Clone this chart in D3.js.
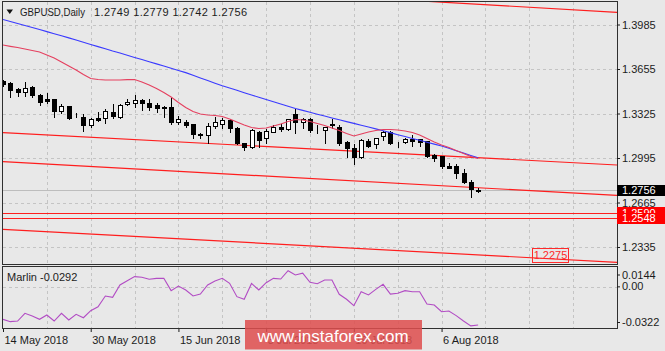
<!DOCTYPE html>
<html lang="en">
<head>
<meta charset="UTF-8">
<title>GBPUSD, Daily</title>
<script src="https://d3js.org/d3.v7.min.js"></script>
<style>
    html, body {
        margin: 0;
        padding: 0;
        background: #e8e8e8;
    }
    svg {
        display: block;
        font-family: "Liberation Sans", Arial, sans-serif;
    }
    .grid {
        stroke: #c4c4c4;
        stroke-dasharray: 3,3;
        shape-rendering: crispEdges;
    }
    .frame {
        fill: none;
        stroke: #303030;
        shape-rendering: crispEdges;
    }
    .lbl {
        font-size: 11px;
        fill: #1c1c1c;
    }
</style>
</head>
<body>
<svg id="chart" width="665" height="351"></svg>

<script>
    // daily bars, 14 May 2018 .. 13 Aug 2018
    const opens = [1.3566, 1.3553, 1.3504, 1.3487, 1.3519, 1.3462, 1.3430, 1.3430, 1.3346, 1.3383,
        1.3321, 1.3301, 1.3240, 1.3294, 1.3289, 1.3338, 1.3301, 1.3395, 1.3405, 1.3425,
        1.3405, 1.3388, 1.3375, 1.3375, 1.3264, 1.3264, 1.3245, 1.3173, 1.3166, 1.3235,
        1.3245, 1.3277, 1.3220, 1.3104, 1.3079, 1.3186, 1.3141, 1.3190, 1.3227, 1.3210,
        1.3319, 1.3264, 1.3284, 1.3218, 1.3203, 1.3247, 1.3227, 1.3116, 1.3071, 1.3005,
        1.3121, 1.3097, 1.3160, 1.3186, 1.3106, 1.3116, 1.3136, 1.3136, 1.3121, 1.3017,
        1.3012, 1.2938, 1.2938, 1.2882, 1.2819, 1.2749];
    const highs = [1.3581, 1.3568, 1.3524, 1.3568, 1.3536, 1.3475, 1.3487, 1.3438, 1.3401, 1.3388,
        1.3338, 1.3327, 1.3301, 1.3346, 1.3364, 1.3401, 1.3401, 1.3438, 1.3470, 1.3438,
        1.3438, 1.3413, 1.3388, 1.3450, 1.3314, 1.3284, 1.3252, 1.3190, 1.3264, 1.3309,
        1.3301, 1.3294, 1.3235, 1.3116, 1.3215, 1.3203, 1.3215, 1.3245, 1.3252, 1.3294,
        1.3364, 1.3301, 1.3301, 1.3245, 1.3236, 1.3289, 1.3245, 1.3129, 1.3104, 1.3141,
        1.3141, 1.3153, 1.3203, 1.3203, 1.3121, 1.3153, 1.3171, 1.3146, 1.3129, 1.3030,
        1.3017, 1.2968, 1.2956, 1.2919, 1.2839, 1.2779];
    const lows = [1.3529, 1.3445, 1.3455, 1.3455, 1.3450, 1.3388, 1.3401, 1.3301, 1.3327, 1.3284,
        1.3301, 1.3197, 1.3227, 1.3273, 1.3252, 1.3289, 1.3289, 1.3388, 1.3371, 1.3351,
        1.3351, 1.3338, 1.3301, 1.3245, 1.3245, 1.3227, 1.3146, 1.3146, 1.3104, 1.3220,
        1.3215, 1.3190, 1.3097, 1.3054, 1.3071, 1.3079, 1.3104, 1.3186, 1.3195, 1.3203,
        1.3178, 1.3215, 1.3190, 1.3178, 1.3104, 1.3215, 1.3091, 1.3005, 1.2948, 1.2993,
        1.3079, 1.3067, 1.3129, 1.3097, 1.3079, 1.3104, 1.3086, 1.3086, 1.3005, 1.2973,
        1.2919, 1.2919, 1.2844, 1.2807, 1.2708, 1.2742];
    const closes = [1.3544, 1.3499, 1.3487, 1.3512, 1.3462, 1.3413, 1.3420, 1.3346, 1.3381, 1.3289,
        1.3318, 1.3240, 1.3282, 1.3277, 1.3346, 1.3306, 1.3388, 1.3413, 1.3425, 1.3405,
        1.3375, 1.3364, 1.3368, 1.3264, 1.3284, 1.3240, 1.3171, 1.3169, 1.3235, 1.3264,
        1.3277, 1.3215, 1.3104, 1.3079, 1.3203, 1.3129, 1.3195, 1.3227, 1.3210, 1.3284,
        1.3264, 1.3284, 1.3203, 1.3214, 1.3227, 1.3240, 1.3104, 1.3067, 1.3005, 1.3129,
        1.3086, 1.3141, 1.3190, 1.3104, 1.3103, 1.3136, 1.3121, 1.3116, 1.3012, 1.2997,
        1.2938, 1.2923, 1.2882, 1.2819, 1.2765, 1.2756];

    // moving averages
    const maSlow = [1.4022, 1.4007, 1.3992, 1.3978, 1.3963, 1.3948, 1.3932, 1.3917, 1.3901, 1.3886,
        1.3870, 1.3854, 1.3837, 1.3821, 1.3805, 1.3788, 1.3773, 1.3757, 1.3741, 1.3725,
        1.3709, 1.3693, 1.3677, 1.3660, 1.3644, 1.3628, 1.3608, 1.3589, 1.3570, 1.3550,
        1.3531, 1.3514, 1.3497, 1.3479, 1.3462, 1.3446, 1.3429, 1.3412, 1.3395, 1.3379,
        1.3362, 1.3348, 1.3334, 1.3320, 1.3306, 1.3292, 1.3278, 1.3265, 1.3252, 1.3238,
        1.3225, 1.3211, 1.3197, 1.3183, 1.3168, 1.3154, 1.3140, 1.3126, 1.3112, 1.3098,
        1.3084, 1.3067, 1.3049, 1.3032, 1.3014, 1.2997];
    const maFast = [1.3833, 1.3823, 1.3814, 1.3803, 1.3792, 1.3781, 1.3759, 1.3737, 1.3707, 1.3677,
        1.3648, 1.3614, 1.3585, 1.3577, 1.3573, 1.3573, 1.3573, 1.3576, 1.3577, 1.3559,
        1.3536, 1.3510, 1.3481, 1.3447, 1.3407, 1.3370, 1.3340, 1.3321, 1.3314, 1.3310,
        1.3303, 1.3284, 1.3262, 1.3240, 1.3221, 1.3214, 1.3217, 1.3232, 1.3247, 1.3266,
        1.3280, 1.3277, 1.3266, 1.3251, 1.3236, 1.3217, 1.3199, 1.3177, 1.3158, 1.3173,
        1.3188, 1.3199, 1.3206, 1.3206, 1.3203, 1.3195, 1.3184, 1.3165, 1.3140, 1.3114,
        1.3091, 1.3073, 1.3051, 1.3028, 1.3006, 1.2991];

    // Marlin oscillator
    const marlin = [-0.0248, -0.0266, -0.0261, -0.0202, -0.0223, -0.0248, -0.0215, -0.0261, -0.0202, -0.0253,
        -0.0210, -0.0236, -0.0182, -0.0152, -0.0070, -0.0080, 0.0014, 0.0047, 0.0078, 0.0073,
        0.0058, 0.0065, 0.0065, -0.0029, 0.0006, -0.0024, -0.0070, -0.0055, 0.0014, 0.0045,
        0.0065, 0.0027, -0.0075, -0.0095, 0.0026, -0.0024, 0.0032, 0.0065, 0.0060, 0.0123,
        0.0091, 0.0104, 0.0035, 0.0024, 0.0052, 0.0052, -0.0057, -0.0095, -0.0144, -0.0037,
        -0.0062, -0.0019, 0.0019, -0.0055, -0.0049, -0.0029, -0.0037, -0.0037, -0.0131, -0.0139,
        -0.0190, -0.0185, -0.0220, -0.0261, -0.0298, -0.0292];

    // trend lines: [bar, price, bar, price]
    const trendLines = [
        [0, 1.4340, 84, 1.4075],
        [0, 1.3183, 84, 1.2943],
        [0, 1.2968, 84, 1.2718],
        [0, 1.2466, 84, 1.2221]
    ];
    const levels = [1.2590, 1.2548];
    const lowTarget = { bar: 72.4, price: 1.2275 };

    const priceTicks = [1.3985, 1.3655, 1.3325, 1.2995, 1.2665, 1.2335];
    const markerTicks = [0.0144, 0, -0.0322];
    const gridEvery = 6;
    const labelEvery = 12;

    const dates = d3.utcDay.range(new Date(Date.UTC(2018, 4, 14)), new Date(Date.UTC(2018, 7, 14)))
        .filter(d => d.getUTCDay() !== 0 && d.getUTCDay() !== 6);
    const fmtDate = d3.utcFormat("%-d %b %Y");
    const last = closes.length - 1;

    const W = 665, H = 351;
    const left = 3, right = 617;
    const mainTop = 2, mainBottom = 264.5;
    const indTop = 267, indBottom = 329;

    const svg = d3.select("#chart");

    const x = d3.scaleLinear().domain([0, 84]).range([left, right]);
    const y = d3.scaleLinear().domain([1.2335, 1.3985]).range([247, 24.5]);
    const yInd = d3.scaleLinear().domain([-0.0322, 0.0144]).range([indBottom, indTop + 1]);
    const px = v => Math.round(v) + 0.5;

    const defs = svg.append("defs");
    defs.append("clipPath").attr("id", "clipMain")
        .append("rect").attr("x", left).attr("y", mainTop).attr("width", right - left).attr("height", mainBottom - mainTop);
    defs.append("clipPath").attr("id", "clipInd")
        .append("rect").attr("x", left).attr("y", indTop).attr("width", right - left).attr("height", indBottom - indTop);

    // grid
    const gridIdx = d3.range(gridEvery, 84, gridEvery);
    const grid = svg.append("g");
    gridIdx.forEach(i => {
        grid.append("line").attr("class", "grid")
            .attr("x1", px(x(i))).attr("x2", px(x(i))).attr("y1", mainTop).attr("y2", mainBottom);
        grid.append("line").attr("class", "grid")
            .attr("x1", px(x(i))).attr("x2", px(x(i))).attr("y1", indTop).attr("y2", indBottom);
    });
    priceTicks.forEach(p => {
        grid.append("line").attr("class", "grid")
            .attr("x1", left).attr("x2", right).attr("y1", px(y(p))).attr("y2", px(y(p)));
    });
    grid.append("line").attr("class", "grid")
        .attr("x1", left).attr("x2", right).attr("y1", px(yInd(0))).attr("y2", px(yInd(0)));

    const main = svg.append("g").attr("clip-path", "url(#clipMain)");

    // bid line
    main.append("line")
        .attr("x1", left).attr("x2", right)
        .attr("y1", px(y(closes[last]))).attr("y2", px(y(closes[last])))
        .attr("stroke", "#bdbdbd").attr("shape-rendering", "crispEdges");

    // red levels and channels
    levels.forEach(p => {
        main.append("line")
            .attr("x1", left).attr("x2", right)
            .attr("y1", px(y(p))).attr("y2", px(y(p)))
            .attr("stroke", "#ff1e1e").attr("stroke-width", 1.2);
    });
    trendLines.forEach(t => {
        main.append("line")
            .attr("x1", x(t[0])).attr("y1", y(t[1]))
            .attr("x2", x(t[2])).attr("y2", y(t[3]))
            .attr("stroke", "#ff1e1e").attr("stroke-width", 1.2);
    });

    // candles
    const candles = main.append("g");
    closes.forEach((c, i) => {
        const o = opens[i];
        const cx = px(x(i));
        candles.append("line")
            .attr("x1", cx).attr("x2", cx)
            .attr("y1", px(y(highs[i]))).attr("y2", px(y(lows[i])))
            .attr("stroke", "#000").attr("shape-rendering", "crispEdges");
        const top = px(y(Math.max(o, c)));
        const bot = px(y(Math.min(o, c)));
        candles.append("rect")
            .attr("x", cx - 2).attr("width", 4)
            .attr("y", top).attr("height", Math.max(bot - top, 0))
            .attr("fill", c >= o ? "#fff" : "#000")
            .attr("stroke", "#000")
            .attr("shape-rendering", "crispEdges");
    });

    // moving averages
    const maLine = d3.line().x((d, i) => x(i)).y(d => y(d));
    main.append("path").datum(maSlow)
        .attr("d", maLine).attr("fill", "none").attr("stroke", "#3a3aff").attr("stroke-width", 1.1);
    main.append("path").datum(maFast)
        .attr("d", maLine).attr("fill", "none").attr("stroke", "#e5405f").attr("stroke-width", 1.1);

    // 1.2275 target label
    const tg = main.append("g");
    tg.append("rect")
        .attr("x", px(x(lowTarget.bar))).attr("y", px(y(lowTarget.price) - 7))
        .attr("width", 36).attr("height", 14)
        .attr("fill", "none").attr("stroke", "#ff2a2a").attr("shape-rendering", "crispEdges");
    tg.append("text")
        .attr("x", px(x(lowTarget.bar)) + 18).attr("y", y(lowTarget.price) + 4)
        .attr("text-anchor", "middle").attr("font-size", 11).attr("fill", "#ff2a2a")
        .text(lowTarget.price.toFixed(4));

    // marlin
    svg.append("g").attr("clip-path", "url(#clipInd)")
        .append("path").datum(marlin)
        .attr("d", d3.line().x((d, i) => x(i)).y(d => yInd(d)))
        .attr("fill", "none").attr("stroke", "#b24cc4").attr("stroke-width", 1.1);

    // frames
    svg.append("rect").attr("class", "frame")
        .attr("x", left - 0.5).attr("y", mainTop - 0.5)
        .attr("width", right - left + 0.5).attr("height", mainBottom - mainTop);
    svg.append("rect").attr("class", "frame")
        .attr("x", left - 0.5).attr("y", indTop - 0.5)
        .attr("width", right - left + 0.5).attr("height", indBottom - indTop);

    // price axis
    const styleAxis = g => {
        g.attr("font-size", 11).attr("font-family", "'Liberation Sans', Arial, sans-serif").attr("color", "#1c1c1c");
        g.select(".domain").remove();
    };
    svg.append("g").attr("transform", `translate(${right},0)`)
        .call(d3.axisRight(y).tickValues(priceTicks).tickSize(3).tickPadding(2).tickFormat(d => d.toFixed(4)))
        .call(styleAxis);

    // price tags on the right
    const tags = [
        { p: closes[last], fill: "#000" },
        { p: levels[0], fill: "#ff0000" },
        { p: levels[1], fill: "#ff0000" }
    ];
    tags.forEach(t => {
        svg.append("rect")
            .attr("x", right).attr("y", Math.round(y(t.p) - 5.5))
            .attr("width", W - right).attr("height", 11)
            .attr("fill", t.fill);
        svg.append("text")
            .attr("x", right + 5).attr("y", y(t.p) + 4)
            .attr("font-size", 11).attr("fill", "#fff")
            .text(t.p.toFixed(4));
    });

    // marlin axis
    const indAxis = svg.append("g").attr("transform", `translate(${right},0)`)
        .call(d3.axisRight(yInd).tickValues(markerTicks).tickSize(3).tickPadding(2)
            .tickFormat(d => d === 0 ? "0.00" : d.toFixed(4)))
        .call(styleAxis);
    indAxis.selectAll(".tick")
        .attr("transform", d => `translate(0,${yInd(d) + (d === markerTicks[0] ? 7 : d === markerTicks[2] ? -6.5 : 0)})`);

    // date axis
    const labelIdx = d3.range(0, closes.length, labelEvery);
    const dateAxis = svg.append("g").attr("transform", `translate(0,${indBottom})`)
        .call(d3.axisBottom(x).tickValues(labelIdx).tickSize(3).tickPadding(3.7)
            .tickFormat(i => fmtDate(dates[i])))
        .call(styleAxis);
    dateAxis.selectAll(".tick text").attr("text-anchor", "start").attr("x", 1);

    // titles
    svg.append("path")
        .attr("d", "M6.5,9.5 L13,9.5 L9.75,14 Z").attr("fill", "#111");
    svg.append("text").attr("class", "lbl")
        .attr("x", 20).attr("y", 16)
        .attr("textLength", 65).attr("lengthAdjust", "spacingAndGlyphs")
        .text("GBPUSD,Daily");
    svg.append("text").attr("class", "lbl")
        .attr("x", 94).attr("y", 16)
        .attr("textLength", 153).attr("lengthAdjust", "spacing")
        .text([opens[last], highs[last], lows[last], closes[last]].map(v => v.toFixed(4)).join(" "));
    svg.append("text").attr("class", "lbl")
        .attr("x", 7).attr("y", 280.5)
        .text("Marlin " + marlin[last].toFixed(4));

    // watermark
    svg.append("rect")
        .attr("x", 245).attr("y", 320).attr("width", 177).attr("height", 29.5)
        .attr("fill", "rgba(222, 78, 78, 0.86)");
    svg.append("text")
        .attr("x", 333).attr("y", 341.5)
        .attr("text-anchor", "middle")
        .attr("font-size", 17).attr("fill", "#fff")
        .text("www.instaforex.com");
</script>
</body>
</html>
